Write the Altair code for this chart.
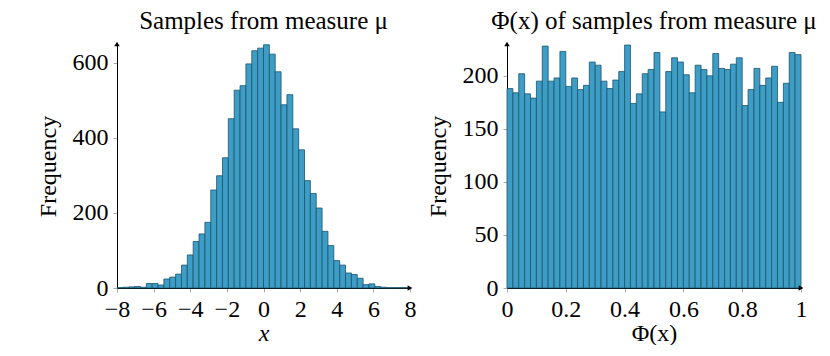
import altair as alt
import pandas as pd

# ---- data ----
left_counts = [1, 2, 3, 4, 2, 12, 12, 8, 24, 29,
               37, 61, 88, 124, 144, 175, 261, 299, 347, 451,
               527, 539, 597, 632, 639, 648, 623, 576, 488, 515,
               424, 368, 286, 252, 213, 151, 113, 73, 61, 40,
               36, 26, 9, 11, 4, 2, 1, 1, 1, 1]
right_counts = [188, 184, 202, 183, 179, 195, 228, 195, 198, 223,
                190, 198, 187, 191, 213, 210, 195, 188, 196, 204,
                229, 174, 183, 202, 206, 222, 166, 204, 217, 213,
                201, 184, 210, 206, 200, 221, 207, 206, 211, 217,
                172, 187, 207, 191, 198, 209, 175, 193, 222, 220]
left_range = [-8.0, 8.0]
right_range = [0.0, 1.0]
left_xticks = [-8, -6, -4, -2, 0, 2, 4, 6, 8]
right_xticks = [0, 0.2, 0.4, 0.6, 0.8, 1]
left_yticks = [0, 200, 400, 600]
right_yticks = [0, 50, 100, 150, 200]
left_ymax = 650
right_ymax = 230

FONT = "Liberation Serif"
FILL = "#3d9dc5"
EDGE = "#1b5470"


def bins(counts, rng):
    n = len(counts)
    w = (rng[1] - rng[0]) / n
    return pd.DataFrame({
        "start": [rng[0] + i * w for i in range(n)],
        "end": [rng[0] + (i + 1) * w for i in range(n)],
        "base": [0] * n,
        "count": counts,
    })


def panel(counts, rng, xticks, yticks, ymax, title, xtitle, xfmt, w, h):
    df = bins(counts, rng)
    xs = alt.Scale(domain=rng, nice=False, zero=False)
    ys = alt.Scale(domain=[0, ymax], nice=False)
    xaxis = alt.Axis(values=xticks, title=xtitle, format=xfmt, labelOverlap=False,
                     labelFlush=False,
                     titleFontStyle="italic" if xtitle == "x" else "normal")
    yaxis = alt.Axis(values=yticks, title="Frequency", labelOverlap=False, labelFlush=False)
    bars = alt.Chart(df).mark_rect(fill=FILL, stroke=EDGE, strokeWidth=0.8).encode(
        x=alt.X("start:Q", scale=xs, axis=xaxis),
        x2="end:Q",
        y=alt.Y("count:Q", scale=ys, axis=yaxis),
        y2="base:Q",
    )
    arrows = pd.DataFrame({
        "x": [rng[0], rng[1]],
        "y": [ymax, 0],
        "shape": ["triangle-up", "triangle-right"],
    })
    heads = alt.Chart(arrows).mark_point(filled=True, color="black", size=30, opacity=1).encode(
        x=alt.X("x:Q", scale=xs, axis=xaxis),
        y=alt.Y("y:Q", scale=ys, axis=yaxis),
        shape=alt.Shape("shape:N", scale=None, legend=None),
    )
    return alt.layer(bars, heads).properties(
        width=w, height=h,
        title=alt.TitleParams(title, fontSize=25, font=FONT, fontWeight="normal",
                              anchor="middle", offset=8),
    )


left = panel(left_counts, left_range, left_xticks, left_yticks, left_ymax,
             "Samples from measure μ", "x", "d", 293, 244)
right = panel(right_counts, right_range, right_xticks, right_yticks, right_ymax,
              "Φ(x) of samples from measure μ", "Φ(x)", "~g", 294, 244)

chart = alt.hconcat(left, right, spacing=10).properties(
    padding={"left": 28, "top": 0, "right": 0, "bottom": 0}
).configure_view(stroke=None).configure_axis(
    labelFont=FONT, titleFont=FONT, labelFontSize=24, titleFontSize=24,
    titleFontWeight="normal", labelColor="black", titleColor="black",
    domainColor="black", domainWidth=1, tickColor="#aaaaaa", tickSize=4,
    labelPadding=5, grid=False, labelOverlap=False, labelFlush=False,
).configure_axisY(titlePadding=12).configure_axisX(titlePadding=0)

chart.save("out.html", embed_options={"renderer": "svg", "actions": False})
